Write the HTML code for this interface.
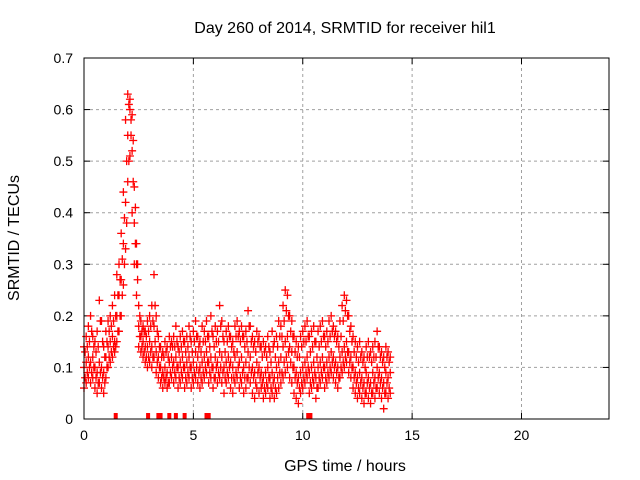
<!DOCTYPE html>
<html><head><meta charset="utf-8"><style>
body{margin:0;background:#fff;}
svg{display:block;font-family:"Liberation Sans",sans-serif;}
</style></head><body>
<svg id="chart" width="640" height="480">
<text x="345" y="33" text-anchor="middle" font-size="16">Day 260 of 2014, SRMTID for receiver hil1</text>
<text x="345" y="471" text-anchor="middle" font-size="16">GPS time / hours</text>
<text transform="translate(19,238) rotate(-90)" text-anchor="middle" font-size="16">SRMTID / TECUs</text>
<g id="grid"></g><g id="ticks"></g><g id="marks"></g>
<rect x="84" y="58" width="525" height="361" fill="none" stroke="#000" stroke-width="1"/>
</svg>
<script>
const xTicks=[0,5,10,15,20];
const yTicks=[0,0.1,0.2,0.3,0.4,0.5,0.6,0.7];
const yTickLabels=["0","0.1","0.2","0.3","0.4","0.5","0.6","0.7"];
const tStart=0, tStep=0.1;
const midVals=[.10,.11,.12,.11,.12,.10,.09,.11,.10,.09,.12,.14,.15,.16,.15,.20,.24,.27,.34,.42,.55,.60,.52,.38,.30,.18,.16,.15,.14,.14,.15,.14,.18,.13,.12,.10,.09,.10,.09,.11,.12,.11,.12,.10,.11,.12,.10,.11,.12,.10,.11,.13,.12,.10,.11,.12,.13,.11,.12,.10,.12,.11,.13,.12,.10,.11,.12,.11,.10,.12,.13,.11,.12,.10,.11,.13,.12,.10,.09,.11,.10,.09,.08,.09,.10,.08,.09,.08,.10,.11,.12,.14,.15,.16,.14,.13,.10,.09,.08,.09,.10,.11,.12,.09,.10,.11,.08,.10,.11,.12,.10,.11,.12,.13,.12,.11,.10,.12,.13,.14,.15,.13,.12,.10,.09,.08,.09,.08,.07,.09,.08,.07,.09,.08,.10,.09,.08,.07,.09,.08,.09];
const hiVals=[.14,.16,.18,.20,.16,.15,.17,.23,.19,.14,.17,.19,.20,.22,.24,.28,.30,.36,.44,.58,.63,.62,.59,.45,.34,.22,.19,.18,.17,.19,.20,.22,.28,.20,.16,.14,.13,.15,.14,.16,.15,.16,.18,.14,.16,.17,.15,.16,.18,.15,.17,.19,.16,.15,.18,.17,.19,.16,.20,.16,.18,.17,.22,.19,.15,.17,.18,.16,.15,.18,.19,.17,.18,.16,.17,.21,.18,.16,.15,.17,.16,.14,.15,.14,.16,.13,.17,.15,.16,.19,.18,.22,.25,.24,.20,.19,.16,.15,.14,.16,.17,.18,.19,.16,.17,.18,.15,.17,.18,.19,.16,.17,.19,.20,.18,.17,.16,.19,.22,.24,.23,.20,.18,.16,.15,.14,.15,.13,.12,.14,.15,.13,.14,.15,.17,.14,.13,.12,.14,.13,.12];
const loVals=[.06,.07,.08,.07,.08,.06,.05,.07,.06,.05,.08,.10,.11,.12,.13,.15,.17,.20,.26,.33,.46,.51,.40,.30,.24,.14,.13,.12,.11,.10,.11,.10,.12,.09,.08,.07,.06,.07,.06,.07,.08,.07,.08,.06,.07,.08,.06,.07,.08,.06,.07,.08,.07,.06,.07,.08,.09,.07,.08,.06,.08,.07,.08,.07,.05,.07,.08,.06,.05,.07,.08,.06,.07,.05,.06,.08,.07,.05,.04,.06,.05,.06,.04,.05,.06,.04,.05,.04,.05,.06,.07,.08,.09,.10,.08,.07,.05,.04,.03,.05,.06,.07,.08,.05,.06,.07,.04,.06,.07,.08,.06,.07,.08,.09,.08,.07,.06,.08,.09,.10,.11,.09,.08,.06,.05,.04,.05,.04,.03,.05,.04,.03,.05,.04,.06,.05,.04,.02,.05,.04,.05];
const halfStart=0.05;
const upperMidVals=[.13,.14,.15,.17,.14,.13,.14,.19,.15,.12,.15,.17,.18,.19,.20,.24,.27,.31,.39,.50,.61,.58,.54,.41,.30,.20,.17,.17,.16,.17,.18,.19,.22,.17,.14,.12,.12,.13,.12,.14,.14,.14,.15,.13,.14,.15,.13,.14,.16,.13,.15,.16,.14,.13,.15,.15,.16,.14,.17,.14,.15,.15,.18,.16,.13,.15,.16,.14,.13,.16,.16,.15,.16,.14,.15,.18,.15,.14,.13,.15,.14,.12,.13,.12,.14,.11,.14,.12,.14,.16,.16,.19,.21,.20,.17,.16,.13,.12,.12,.14,.15,.15,.16,.13,.14,.15,.12,.14,.15,.16,.14,.15,.16,.17,.16,.15,.14,.16,.19,.21,.20,.17,.15,.13,.12,.11,.12,.11,.10,.12,.12,.11,.12,.12,.14,.12,.11,.10,.12,.11];
const lowerMidVals=[.08,.09,.10,.09,.10,.08,.07,.09,.08,.07,.10,.12,.13,.14,.14,.17,.20,.24,.30,.38,.50,.55,.46,.34,.27,.16,.14,.13,.12,.12,.13,.12,.15,.11,.10,.08,.08,.08,.07,.09,.10,.09,.10,.08,.09,.10,.08,.09,.10,.08,.09,.10,.09,.08,.09,.10,.11,.09,.10,.08,.10,.09,.10,.09,.08,.09,.10,.08,.08,.09,.10,.08,.09,.08,.08,.10,.09,.08,.07,.09,.08,.07,.06,.07,.08,.06,.07,.06,.08,.09,.09,.11,.12,.13,.11,.10,.08,.07,.06,.07,.08,.09,.10,.07,.08,.09,.06,.08,.09,.10,.08,.09,.10,.11,.10,.09,.08,.10,.11,.12,.13,.11,.10,.08,.07,.06,.07,.06,.05,.07,.06,.05,.07,.06,.08,.07,.06,.05,.07,.06];
const gapTimes=[1.45,2.93,3.4,3.5,3.9,4.2,4.6,5.6,5.7,10.25,10.35];
const X0=84,X1=609,Y0=419,Y1=58,XMAX=24,YMAX=0.7;
function xs(t){return X0+(t/XMAX)*(X1-X0);}
function ys(v){return Y0-(v/YMAX)*(Y0-Y1);}
const NS="http://www.w3.org/2000/svg";
const grid=document.getElementById('grid'),ticks=document.getElementById('ticks'),marks=document.getElementById('marks');
function mk(tag,attrs,parent){const e=document.createElementNS(NS,tag);for(const k in attrs)e.setAttribute(k,attrs[k]);parent.appendChild(e);return e;}
xTicks.forEach(t=>{
  const x=xs(t);
  if(t>0){const g=mk('line',{x1:x,x2:x,y1:Y0,y2:Y1,stroke:'#a0a0a0','stroke-dasharray':'3,3'},grid);
  
  }
  mk('line',{x1:x,x2:x,y1:Y0,y2:Y0-6,stroke:'#000'},ticks);
  mk('line',{x1:x,x2:x,y1:Y1,y2:Y1+6,stroke:'#000'},ticks);
  const l=mk('text',{x:x,y:Y0+21,'text-anchor':'middle','font-size':14},ticks);
  l.textContent=String(t);
  
  
});
yTicks.forEach((v,i)=>{
  const y=ys(v);
  if(v>0&&v<YMAX){const g=mk('line',{x1:X0,x2:X1,y1:y,y2:y,stroke:'#a0a0a0','stroke-dasharray':'3,3'},grid);
  
  }
  mk('line',{x1:X0,x2:X0+6,y1:y,y2:y,stroke:'#000'},ticks);
  mk('line',{x1:X1,x2:X1-6,y1:y,y2:y,stroke:'#000'},ticks);
  const l=mk('text',{x:X0-11,y:y+5,'text-anchor':'end','font-size':14},ticks);
  l.textContent=yTickLabels[i];
  
  
});
function plus(t,v){
  const x=xs(t),y=ys(v);
  const p=mk('path',{d:`M${x-4},${y}h8M${x},${y-4}v8`,stroke:'#ff0000','stroke-width':1.3,fill:'none'},marks);
  
  
}
[loVals,midVals,hiVals].forEach(arr=>arr.forEach((v,i)=>plus(tStart+i*tStep,v)));
[lowerMidVals,upperMidVals].forEach(arr=>arr.forEach((v,i)=>plus(halfStart+i*tStep,v)));
gapTimes.forEach(t=>{
  const r=mk('rect',{x:xs(t)-2,y:Y0-6,width:4,height:6,fill:'#ff0000'},marks);
  
  
});
</script>
</body></html>
